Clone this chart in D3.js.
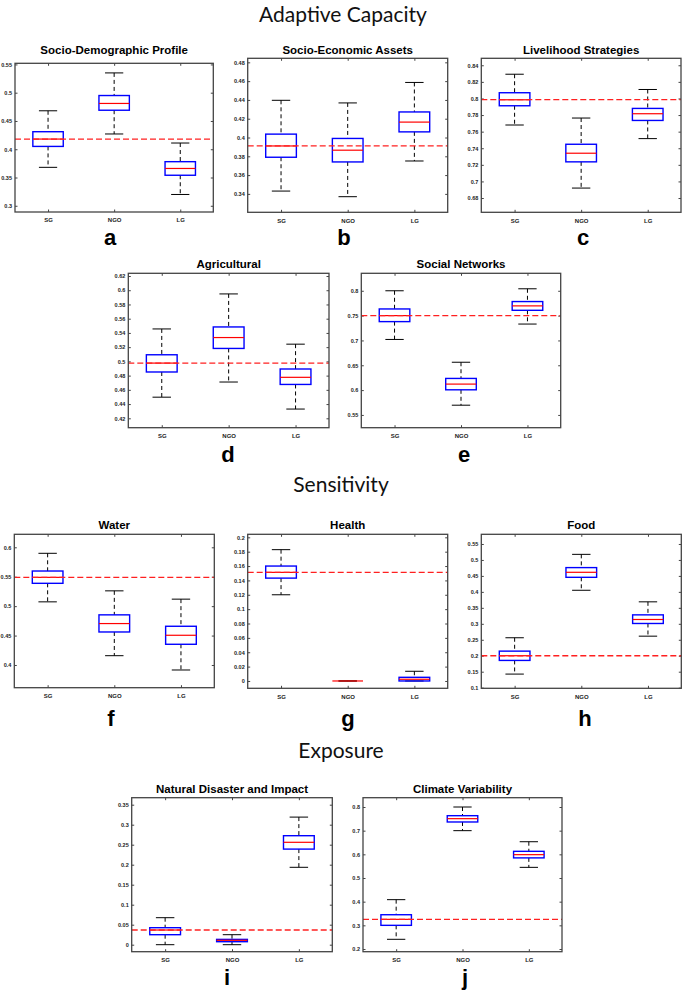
<!DOCTYPE html>
<html>
<head>
<meta charset="utf-8">
<script src="https://cdn.jsdelivr.net/npm/d3@7"></script>
<style>
  html, body { margin: 0; padding: 0; background: #fff; }
  svg { display: block; }
</style>
</head>
<body>
<div id="chart"></div>
<script>
// ---------------- DATA ----------------
const categories = ["SG", "NGO", "LG"];
const sectionTitles = ["Adaptive Capacity", "Sensitivity", "Exposure"];
const panelTitles = ["Socio-Demographic Profile", "Socio-Economic Assets", "Livelihood Strategies",
  "Agricultural", "Social Networks", "Water", "Health", "Food",
  "Natural Disaster and Impact", "Climate Variability"];
const panelLetters = ["a", "b", "c", "d", "e", "f", "g", "h", "i", "j"];

// per panel, per category [SG, NGO, LG]
const whiskerLow = [
  [0.368, 0.427, 0.320], [0.343, 0.337, 0.375], [0.768, 0.692, 0.7516],
  [0.4497, 0.471, 0.433], [0.702, 0.5696, 0.733],
  [0.5073, 0.4158, 0.3915], [0.12, 0, 0], [0.1425, 0.405, 0.2613],
  [0, 0, 0.1935], [0.241, 0.70, 0.545]
];
const quartile1 = [
  [0.405, 0.469, 0.354], [0.379, 0.374, 0.406], [0.7912, 0.7236, 0.7735],
  [0.4851, 0.5182, 0.4676], [0.7379, 0.6006, 0.7607],
  [0.5388, 0.4561, 0.4352], [0.1432, 0, 0], [0.1853, 0.4456, 0.301],
  [0.025, 0.0075, 0.239], [0.30, 0.7367, 0.585]
];
const medians = [
  [0.418, 0.481, 0.366], [0.391, 0.3865, 0.4164], [0.7984, 0.734, 0.7816],
  [0.4976, 0.5335, 0.4776], [0.75, 0.6121, 0.7696],
  [0.5489, 0.4704, 0.4505], [0.1512, 0, 0.0024], [0.20, 0.4613, 0.3135],
  [0.0367, 0.011, 0.256], [0.3253, 0.7507, 0.5986]
];
const quartile3 = [
  [0.431, 0.495, 0.378], [0.4036, 0.399, 0.4272], [0.8069, 0.7448, 0.788],
  [0.5093, 0.5484, 0.4893], [0.7634, 0.6235, 0.7783],
  [0.5597, 0.4852, 0.4658], [0.16, 0, 0.0051], [0.2144, 0.476, 0.328],
  [0.0425, 0.0133, 0.2725], [0.3448, 0.7633, 0.6127]
];
const whiskerHigh = [
  [0.468, 0.535, 0.411], [0.4396, 0.4368, 0.4586], [0.8292, 0.7764, 0.8108],
  [0.5456, 0.5948, 0.5242], [0.80, 0.6561, 0.804],
  [0.5898, 0.526, 0.5119], [0.1828, 0, 0.0135], [0.2563, 0.5175, 0.3688],
  [0.0675, 0.025, 0.319], [0.4085, 0.80, 0.6533]
];
const refValues = [0.418, 0.391, 0.7986, 0.4976, 0.75, 0.549, 0.1512, 0.20, 0.0367, 0.3253];

const yTicks = [
  [0.3, 0.35, 0.4, 0.45, 0.5, 0.55],
  [0.34, 0.36, 0.38, 0.4, 0.42, 0.44, 0.46, 0.48],
  [0.68, 0.7, 0.72, 0.74, 0.76, 0.78, 0.8, 0.82, 0.84],
  [0.42, 0.44, 0.46, 0.48, 0.5, 0.52, 0.54, 0.56, 0.58, 0.6, 0.62],
  [0.55, 0.6, 0.65, 0.7, 0.75, 0.8],
  [0.4, 0.45, 0.5, 0.55, 0.6],
  [0, 0.02, 0.04, 0.06, 0.08, 0.1, 0.12, 0.14, 0.16, 0.18, 0.2],
  [0.1, 0.15, 0.2, 0.25, 0.3, 0.35, 0.4, 0.45, 0.5, 0.55],
  [0, 0.05, 0.1, 0.15, 0.2, 0.25, 0.3, 0.35],
  [0.2, 0.3, 0.4, 0.5, 0.6, 0.7, 0.8]
];
const yDomains = [
  [0.289, 0.552], [0.3204, 0.4843], [0.6628, 0.8484], [0.4068, 0.6238], [0.5243, 0.8352],
  [0.3614, 0.6221], [-0.0102, 0.2042], [0.098, 0.5803], [-0.0175, 0.3675], [0.1886, 0.8393]
];

// ---------------- LAYOUT ----------------
const W = 682, H = 992;
// frames [x0, y0, x1, y1]
const frames = [
  [15, 63.3, 213.3, 212], [247.7, 58.3, 447.7, 212.3], [481.3, 58.3, 681, 212.3],
  [128.3, 273.3, 329, 427.7], [361.3, 273.3, 560.7, 427.7],
  [14.3, 534.3, 214.3, 687.7], [247.7, 534.3, 447.7, 688.3], [481.3, 534.3, 681.3, 688.3],
  [131.7, 797.7, 332.3, 951.7], [363, 797.7, 562, 951.7]
];
const titleBaselines = [54, 54, 54, 268, 268, 529, 529, 529, 793, 793];
const letterPos = [[110, 245], [344, 245], [583, 245], [228, 462], [464, 462],
  [111, 726], [348, 726], [585, 726], [227, 985], [465, 985]];
const sectionPos = [[343, 22], [341, 492], [341, 758]];

const svg = d3.select("#chart").append("svg").attr("width", W).attr("height", H)
  .style("font-family", "'Liberation Sans', Arial, sans-serif");

svg.selectAll("text.section").data(sectionTitles).join("text")
  .attr("class", "section")
  .attr("x", (d, i) => sectionPos[i][0]).attr("y", (d, i) => sectionPos[i][1])
  .attr("text-anchor", "middle")
  .style("font-family", "Lato, 'Open Sans', sans-serif")
  .style("font-size", "21px").attr("fill", "#111")
  .text(d => d);

panelTitles.forEach((title, p) => {
  const [x0, y0, x1, y1] = frames[p];
  const x = d3.scaleLinear().domain([0.5, 3.5]).range([x0, x1]);
  const y = d3.scaleLinear().domain(yDomains[p]).range([y1, y0]);
  const step = x(2) - x(1);
  const bw = step * 0.46, cw = bw * 0.6;
  const g = svg.append("g");

  // title
  g.append("text").attr("x", (x0 + x1) / 2).attr("y", titleBaselines[p])
    .attr("text-anchor", "middle").style("font-size", "11.5px").style("font-weight", "bold")
    .attr("fill", "#000").text(title);

  // letter
  g.append("text").attr("x", letterPos[p][0]).attr("y", letterPos[p][1])
    .attr("text-anchor", "middle").style("font-size", "22px").style("font-weight", "bold")
    .attr("fill", "#000").text(panelLetters[p]);

  // axes (MATLAB-like inside ticks)
  const yAxisL = d3.axisLeft(y).tickValues(yTicks[p]).tickSizeInner(-2.5).tickSizeOuter(0)
    .tickPadding(3).tickFormat(d => String(+d.toFixed(3)));
  const gyl = g.append("g").attr("transform", `translate(${x0},0)`).call(yAxisL);
  gyl.select(".domain").remove();
  gyl.selectAll(".tick line").attr("stroke", "#444");
  gyl.selectAll(".tick text").style("font-size", "5.5px").style("font-weight", "bold").attr("fill", "#222");

  const yAxisR = d3.axisRight(y).tickValues(yTicks[p]).tickSizeInner(-2.5).tickSizeOuter(0).tickFormat("");
  const gyr = g.append("g").attr("transform", `translate(${x1},0)`).call(yAxisR);
  gyr.select(".domain").remove();
  gyr.selectAll(".tick line").attr("stroke", "#444");

  const xAxisB = d3.axisBottom(x).tickValues([1, 2, 3]).tickSizeInner(-2.5).tickSizeOuter(0)
    .tickPadding(6).tickFormat(d => categories[d - 1]);
  const gxb = g.append("g").attr("transform", `translate(0,${y1})`).call(xAxisB);
  gxb.select(".domain").remove();
  gxb.selectAll(".tick line").attr("stroke", "#444");
  gxb.selectAll(".tick text").style("font-size", "6px").style("font-weight", "bold").attr("fill", "#222");

  const xAxisT = d3.axisTop(x).tickValues([1, 2, 3]).tickSizeInner(-2.5).tickSizeOuter(0).tickFormat("");
  const gxt = g.append("g").attr("transform", `translate(0,${y0})`).call(xAxisT);
  gxt.select(".domain").remove();
  gxt.selectAll(".tick line").attr("stroke", "#444");

  // box elements
  categories.forEach((c, i) => {
    const cx = x(i + 1);
    // whiskers (dashed)
    g.append("line").attr("x1", cx).attr("x2", cx)
      .attr("y1", y(whiskerHigh[p][i])).attr("y2", y(quartile3[p][i]))
      .attr("stroke", "#000").attr("stroke-width", 1).attr("stroke-dasharray", "4,3");
    g.append("line").attr("x1", cx).attr("x2", cx)
      .attr("y1", y(quartile1[p][i])).attr("y2", y(whiskerLow[p][i]))
      .attr("stroke", "#000").attr("stroke-width", 1).attr("stroke-dasharray", "4,3");
    // caps
    [whiskerHigh[p][i], whiskerLow[p][i]].forEach(v => {
      g.append("line").attr("x1", cx - cw / 2).attr("x2", cx + cw / 2)
        .attr("y1", y(v)).attr("y2", y(v)).attr("stroke", "#000").attr("stroke-width", 1);
    });
    // box
    g.append("rect").attr("x", cx - bw / 2).attr("width", bw)
      .attr("y", y(quartile3[p][i])).attr("height", Math.max(0, y(quartile1[p][i]) - y(quartile3[p][i])))
      .attr("fill", "none").attr("stroke", "#0000ff").attr("stroke-width", 1.4);
    // median
    g.append("line").attr("x1", cx - bw / 2).attr("x2", cx + bw / 2)
      .attr("y1", y(medians[p][i])).attr("y2", y(medians[p][i]))
      .attr("stroke", "#ff0000").attr("stroke-width", 1.2);
  });

  // reference line
  g.append("line").attr("x1", x0).attr("x2", x1)
    .attr("y1", y(refValues[p])).attr("y2", y(refValues[p]))
    .attr("stroke", "#ff2020").attr("stroke-width", 1.3).attr("stroke-dasharray", "6,3");

  // frame
  g.append("rect").attr("x", x0).attr("y", y0).attr("width", x1 - x0).attr("height", y1 - y0)
    .attr("fill", "none").attr("stroke", "#444").attr("stroke-width", 1.3);
});
</script>
</body>
</html>
